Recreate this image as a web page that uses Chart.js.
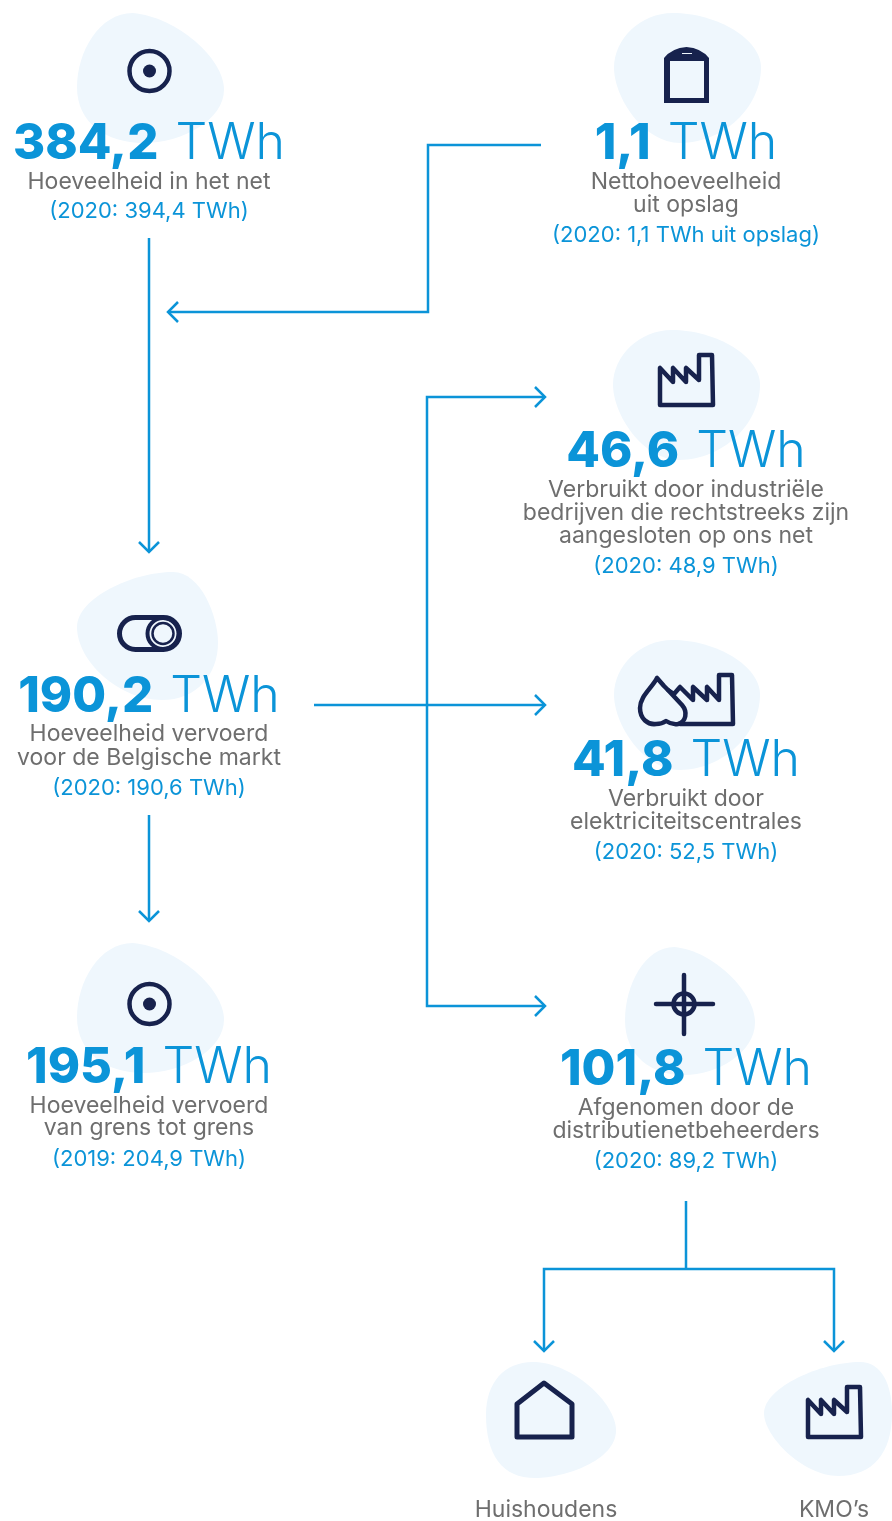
<!DOCTYPE html>
<html>
<head>
<meta charset="utf-8">
<title>Hoeveelheden elektriciteit</title>
<style>
  html, body { margin: 0; padding: 0; background: #fff; }
  #wrap { width: 892px; height: 1521px; }
</style>
<script src="https://cdn.jsdelivr.net/npm/chart.js@4"></script>
</head>
<body>
<div id="wrap"><canvas id="flowChart" width="892" height="1521"></canvas></div>
<script>
// values as printed on the picture, left column first
const nodeValues = ["384,2", "190,2", "195,1", "1,1", "46,6", "41,8", "101,8"];
const nodeUnit = "TWh";
const nodeCaptions = [
  ["Hoeveelheid in het net"],
  ["Hoeveelheid vervoerd", "voor de Belgische markt"],
  ["Hoeveelheid vervoerd", "van grens tot grens"],
  ["Nettohoeveelheid", "uit opslag"],
  ["Verbruikt door industriële", "bedrijven die rechtstreeks zijn", "aangesloten op ons net"],
  ["Verbruikt door", "elektriciteitscentrales"],
  ["Afgenomen door de", "distributienetbeheerders"]
];
const nodeCompare = [
  "(2020: 394,4 TWh)",
  "(2020: 190,6 TWh)",
  "(2019: 204,9 TWh)",
  "(2020: 1,1 TWh uit opslag)",
  "(2020: 48,9 TWh)",
  "(2020: 52,5 TWh)",
  "(2020: 89,2 TWh)"
];
const endLabels = ["Huishoudens", "KMO’s"];

const BLUE = "#0b94d8";
const NAVY = "#17224d";
const GREY = "#6e6e6e";
const BLOB = "#eff7fd";

// layout of the text blocks: centre x, baseline of value, captions, comparison
const nodeLayout = [
  { x: 149, big: 159, cap: [189], cmp: 218 },
  { x: 149, big: 712, cap: [741, 765], cmp: 795 },
  { x: 149, big: 1083, cap: [1113, 1135], cmp: 1166 },
  { x: 686, big: 159, cap: [189, 212], cmp: 242 },
  { x: 686, big: 467, cap: [497, 520, 543], cmp: 573 },
  { x: 686, big: 776, cap: [806, 829], cmp: 859 },
  { x: 686, big: 1085, cap: [1115, 1138], cmp: 1168 }
];
const endLayout = [{ x: 546, y: 1517 }, { x: 834, y: 1517 }];

// connector lines of the flow, drawn as line datasets on the x/y scales
const connectors = [
  [[149, 238], [149, 552]],
  [[139, 542], [149, 552], [159, 542]],
  [[541, 145], [428, 145], [428, 312], [168, 312]],
  [[178, 302], [168, 312], [178, 322]],
  [[545, 397], [427, 397], [427, 1006], [545, 1006]],
  [[535, 387], [545, 397], [535, 407]],
  [[535, 996], [545, 1006], [535, 1016]],
  [[314, 705], [545, 705]],
  [[535, 695], [545, 705], [535, 715]],
  [[149, 815], [149, 921]],
  [[139, 911], [149, 921], [159, 911]],
  [[686, 1201], [686, 1269]],
  [[544, 1351], [544, 1269], [834, 1269], [834, 1351]],
  [[534, 1341], [544, 1351], [554, 1341]],
  [[824, 1341], [834, 1351], [844, 1341]]
];

// blob outlines in a unit box
const blobShapes = {
  a: [[.38, 0], [.68, .03, 1, .35, 1, .59], [1, .82, .72, 1, .45, 1], [.2, 1, 0, .85, 0, .57], [0, .3, .15, 0, .38, 0]],
  b: [[.68, 0], [.88, 0, 1, .35, 1, .55], [1, .8, .85, 1, .6, 1], [.3, 1, 0, .7, 0, .43], [0, .2, .4, 0, .68, 0]],
  c: [[.4, 0], [.7, 0, 1, .2, 1, .42], [1, .72, .75, 1, .45, 1], [.2, 1, 0, .65, 0, .42], [0, .2, .18, 0, .4, 0]],
  d: [[.36, 0], [.66, 0, 1, .35, 1, .59], [1, .85, .6, 1, .38, 1], [.12, 1, 0, .8, 0, .45], [0, .18, .14, 0, .36, 0]],
  e: [[.75, 0], [.92, 0, 1, .2, 1, .45], [1, .8, .85, 1, .58, 1], [.3, 1, 0, .65, 0, .45], [0, .22, .45, 0, .75, 0]]
};
const blobLayout = [
  { s: "a", x: 77, y: 13, w: 147, h: 130 },
  { s: "c", x: 614, y: 13, w: 147, h: 130 },
  { s: "c", x: 613, y: 330, w: 147, h: 130 },
  { s: "b", x: 77, y: 572, w: 141, h: 128 },
  { s: "c", x: 614, y: 640, w: 146, h: 130 },
  { s: "a", x: 77, y: 943, w: 147, h: 130 },
  { s: "a", x: 625, y: 947, w: 130, h: 128 },
  { s: "d", x: 486, y: 1362, w: 130, h: 116 },
  { s: "e", x: 764, y: 1362, w: 128, h: 114 }
];

const factoryPts = [[660, 368], [660, 405], [713, 405], [712, 355], [699, 355], [699, 380], [686, 368], [686, 382], [673, 368], [673, 382]];
const dropFactoryPts = [[680, 724], [733, 724], [732, 675], [719, 675], [719, 700], [707, 687], [707, 700], [693, 687], [693, 700], [680, 687], [674, 694], [668, 690]];
const housePts = [[544, 1383], [572, 1404], [572, 1437], [517, 1437], [517, 1404]];

function centerBig(ctx, value, cx, baseline) {
  ctx.textAlign = "left";
  ctx.textBaseline = "alphabetic";
  const boldFont = "800 49px Inter";
  const lightFont = "300 50px Inter";
  ctx.font = boldFont;
  const w1 = ctx.measureText(value).width;
  ctx.font = lightFont;
  const w2 = ctx.measureText(nodeUnit).width;
  const gap = 17;
  let left = cx - (w1 + gap + w2) / 2;
  ctx.fillStyle = BLUE;
  ctx.font = boldFont;
  ctx.fillText(value, left, baseline);
  ctx.font = lightFont;
  ctx.fillText(nodeUnit, left + w1 + gap, baseline);
}

function polyline(ctx, pts, close) {
  ctx.beginPath();
  pts.forEach((p, i) => (i ? ctx.lineTo(p[0], p[1]) : ctx.moveTo(p[0], p[1])));
  if (close) ctx.closePath();
  ctx.stroke();
}

function drawIcons(ctx) {
  ctx.strokeStyle = NAVY;
  ctx.fillStyle = NAVY;
  ctx.lineJoin = "round";
  ctx.lineCap = "round";

  // target icons
  [[149.5, 71], [149.5, 1004]].forEach(c => {
    ctx.lineWidth = 4.5;
    ctx.beginPath();
    ctx.arc(c[0], c[1], 20, 0, Math.PI * 2);
    ctx.stroke();
    ctx.beginPath();
    ctx.arc(c[0], c[1], 6.5, 0, Math.PI * 2);
    ctx.fill();
  });

  // storage tank
  ctx.beginPath();
  ctx.moveTo(664, 103);
  ctx.lineTo(664, 58);
  ctx.quadraticCurveTo(672, 48, 686.5, 47);
  ctx.quadraticCurveTo(701, 48, 709, 58);
  ctx.lineTo(709, 103);
  ctx.closePath();
  ctx.fill();
  ctx.fillStyle = BLOB;
  ctx.fillRect(670, 61, 34, 37);
  ctx.fillRect(682, 53, 10, 1);
  ctx.fillStyle = NAVY;

  // factories
  ctx.lineWidth = 4.5;
  polyline(ctx, factoryPts, true);
  polyline(ctx, factoryPts.map(p => [p[0] + 148, p[1] + 1032]), true);

  // drop + factory
  polyline(ctx, dropFactoryPts, false);
  ctx.beginPath();
  ctx.moveTo(657, 678);
  ctx.bezierCurveTo(652, 688, 640, 696, 640, 708);
  ctx.bezierCurveTo(640, 719, 648, 725, 656, 724);
  ctx.quadraticCurveTo(662, 724, 666, 721);
  ctx.quadraticCurveTo(672, 725, 678, 724);
  ctx.bezierCurveTo(686, 722, 688, 712, 682, 705);
  ctx.lineTo(668, 690);
  ctx.lineTo(664, 686);
  ctx.closePath();
  ctx.stroke();

  // toggle
  ctx.lineWidth = 5;
  ctx.beginPath();
  ctx.roundRect(119.5, 617.5, 60, 32, 16);
  ctx.stroke();
  ctx.lineWidth = 4;
  ctx.beginPath();
  ctx.arc(163, 633.5, 15.5, 0, Math.PI * 2);
  ctx.stroke();
  ctx.lineWidth = 2.5;
  ctx.beginPath();
  ctx.arc(163, 633.5, 10.5, 0, Math.PI * 2);
  ctx.stroke();

  // crosshair
  ctx.lineWidth = 4.5;
  polyline(ctx, [[656, 1004], [713, 1004]]);
  polyline(ctx, [[684, 975], [684, 1034]]);
  ctx.beginPath();
  ctx.arc(684, 1004, 10.5, 0, Math.PI * 2);
  ctx.stroke();

  // house
  ctx.lineWidth = 5;
  polyline(ctx, housePts, true);
}

const backdropPlugin = {
  id: "backdrop",
  beforeDatasetsDraw(chart) {
    const { ctx } = chart;
    ctx.save();
    ctx.fillStyle = BLOB;
    blobLayout.forEach(b => {
      const s = blobShapes[b.s];
      const px = (u, v) => [chart.scales.x.getPixelForValue(b.x + u * b.w), chart.scales.y.getPixelForValue(b.y + v * b.h)];
      ctx.beginPath();
      ctx.moveTo(...px(s[0][0], s[0][1]));
      s.slice(1).forEach(c => {
        ctx.bezierCurveTo(...px(c[0], c[1]), ...px(c[2], c[3]), ...px(c[4], c[5]));
      });
      ctx.closePath();
      ctx.fill();
    });
    ctx.restore();
  }
};

const labelPlugin = {
  id: "labels",
  afterDatasetsDraw(chart) {
    const { ctx } = chart;
    const sx = v => chart.scales.x.getPixelForValue(v);
    const sy = v => chart.scales.y.getPixelForValue(v);
    ctx.save();
    drawIcons(ctx);
    nodeLayout.forEach((n, i) => {
      centerBig(ctx, nodeValues[i], sx(n.x), sy(n.big));
      ctx.textAlign = "center";
      ctx.font = "400 23px Inter";
      ctx.fillStyle = GREY;
      nodeCaptions[i].forEach((line, k) => ctx.fillText(line, sx(n.x), sy(n.cap[k])));
      ctx.font = "400 22px Inter";
      ctx.fillStyle = BLUE;
      ctx.fillText(nodeCompare[i], sx(n.x), sy(n.cmp));
    });
    ctx.fillStyle = GREY;
    ctx.font = "400 23px Inter";
    endLabels.forEach((t, i) => ctx.fillText(t, sx(endLayout[i].x), sy(endLayout[i].y)));
    ctx.restore();
  }
};

new Chart(document.getElementById("flowChart").getContext("2d"), {
  type: "scatter",
  data: {
    datasets: connectors.map(line => ({
      data: line.map(p => ({ x: p[0], y: p[1] })),
      showLine: true,
      borderColor: BLUE,
      borderWidth: 2.5,
      pointRadius: 0,
      fill: false,
      tension: 0,
      clip: false
    }))
  },
  options: {
    responsive: false,
    animation: false,
    layout: { padding: 0 },
    plugins: { legend: { display: false }, title: { display: false }, tooltip: { enabled: false } },
    scales: {
      x: { type: "linear", min: 0, max: 892, display: false },
      y: { type: "linear", min: 0, max: 1521, reverse: true, display: false }
    }
  },
  plugins: [backdropPlugin, labelPlugin]
});
</script>
</body>
</html>
